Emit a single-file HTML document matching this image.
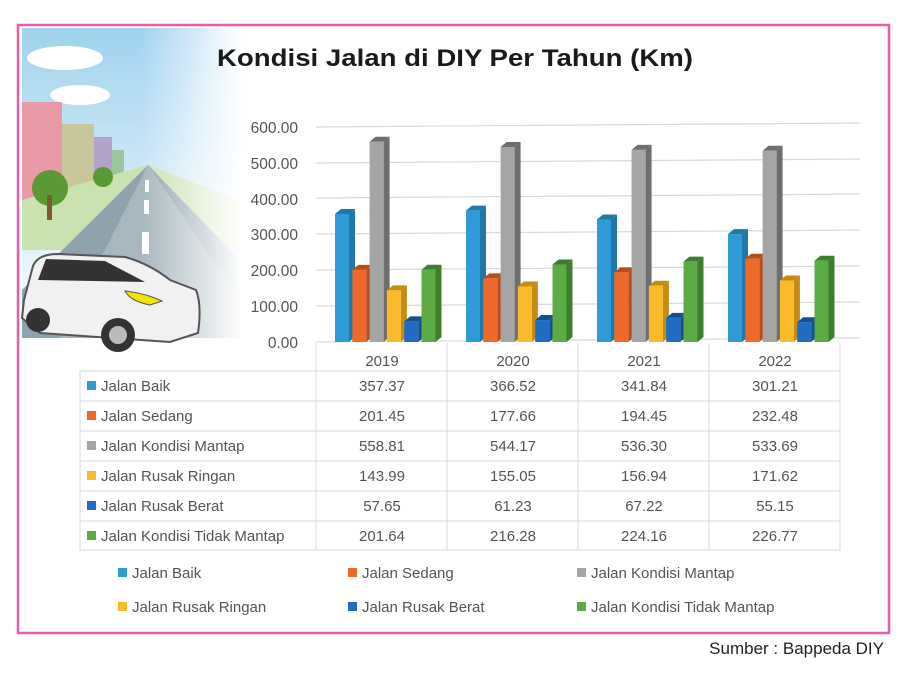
<!DOCTYPE html>
<html><head><meta charset="utf-8"><style>
body{margin:0;background:#fff;}
svg text{font-family:"Liberation Sans",sans-serif;}
</style></head><body>
<svg width="916" height="672" viewBox="0 0 916 672" xmlns="http://www.w3.org/2000/svg">
<defs>
<linearGradient id="sky" x1="0" y1="0" x2="0" y2="1"><stop offset="0" stop-color="#9fd3ee"/><stop offset="1" stop-color="#ffffff"/></linearGradient>
<linearGradient id="fadeR" x1="0" y1="0" x2="1" y2="0"><stop offset="0" stop-color="#fff" stop-opacity="0"/><stop offset="1" stop-color="#fff" stop-opacity="1"/></linearGradient>
</defs>
<rect x="0" y="0" width="916" height="672" fill="#fff"/>
<rect x="22" y="28" width="220" height="310" fill="url(#sky)"/>
<ellipse cx="65" cy="58" rx="38" ry="12" fill="#fff"/>
<ellipse cx="80" cy="95" rx="30" ry="10" fill="#fff"/>
<rect x="22" y="102" width="40" height="110" fill="#e79aa5"/>
<rect x="62" y="124" width="32" height="80" fill="#c9c69c"/>
<rect x="94" y="137" width="18" height="60" fill="#b3a2cc"/>
<rect x="112" y="150" width="12" height="40" fill="#9bc59c"/>
<path d="M22 200 L148 165 L240 200 L240 250 L22 250Z" fill="#c9e2b0"/>
<path d="M148 165 L22 290 L22 338 L240 338 L240 260 Z" fill="#8fa3ae"/>
<path d="M148 165 L60 338 L240 338 L240 300 Z" fill="#a8b6bd"/>
<rect x="145" y="180" width="4" height="12" fill="#fff"/><rect x="144" y="200" width="5" height="14" fill="#fff"/><rect x="142" y="232" width="7" height="22" fill="#fff"/>
<rect x="140" y="28" width="102" height="310" fill="url(#fadeR)"/>
<circle cx="50" cy="188" r="18" fill="#5a9a35"/><rect x="47" y="195" width="5" height="25" fill="#7a5a30"/>
<circle cx="103" cy="177" r="10" fill="#5a9a35"/>
<path d="M24 300 L33 266 Q38 254 58 254 L125 257 Q150 264 170 280 L196 290 Q202 305 198 333 L170 342 L40 333 L22 318Z" fill="#f1f1f1" stroke="#555" stroke-width="2"/>
<path d="M38 280 L46 259 L105 261 L145 282 Z" fill="#333"/>
<path d="M125 291 Q145 293 162 301 L150 305 Q130 301 125 291Z" fill="#f2e600" stroke="#555"/>
<circle cx="38" cy="320" r="12" fill="#333"/><circle cx="118" cy="335" r="17" fill="#333"/><circle cx="118" cy="335" r="9" fill="#bbb"/>
<rect x="18" y="25" width="871" height="608" fill="none" stroke="#e85da9" stroke-width="2.5"/>
<text x="455" y="66" font-size="24" font-weight="bold" text-anchor="middle" fill="#1a1a1a" textLength="476" lengthAdjust="spacingAndGlyphs">Kondisi Jalan di DIY Per Tahun (Km)</text>
<g stroke="#d9d9d9" stroke-width="1.2">
<line x1="316" y1="342" x2="860" y2="338"/>
<line x1="316" y1="306" x2="860" y2="302"/>
<line x1="316" y1="270" x2="860" y2="266"/>
<line x1="316" y1="234" x2="860" y2="230"/>
<line x1="316" y1="198" x2="860" y2="194"/>
<line x1="316" y1="163" x2="860" y2="159"/>
<line x1="316" y1="127" x2="860" y2="123"/>
</g>
<g font-size="15.5" fill="#555" text-anchor="end">
<text x="298" y="348">0.00</text><text x="298" y="312">100.00</text><text x="298" y="276">200.00</text><text x="298" y="240">300.00</text><text x="298" y="205">400.00</text><text x="298" y="169">500.00</text><text x="298" y="133">600.00</text>
</g>
<g id="bars"></g>
<g stroke="#d9d9d9" stroke-width="1" fill="none">
<rect x="80" y="371" width="760" height="179"/>
<line x1="80" y1="401" x2="840" y2="401"/><line x1="80" y1="431" x2="840" y2="431"/><line x1="80" y1="461" x2="840" y2="461"/><line x1="80" y1="491" x2="840" y2="491"/><line x1="80" y1="521" x2="840" y2="521"/>
<line x1="316" y1="343" x2="316" y2="550"/><line x1="447" y1="343" x2="447" y2="550"/><line x1="578" y1="343" x2="578" y2="550"/><line x1="709" y1="343" x2="709" y2="550"/><line x1="840" y1="343" x2="840" y2="550"/>
</g>
<g font-size="15" fill="#555" text-anchor="middle">
<text x="382" y="366">2019</text><text x="513" y="366">2020</text><text x="644" y="366">2021</text><text x="775" y="366">2022</text>
</g>
<g id="tbl" font-size="15" fill="#555"></g>
<g id="leg" font-size="15" fill="#555"></g>
<text x="884" y="654" font-size="17" fill="#222" text-anchor="end">Sumber : Bappeda DIY</text>
</svg>
<script>
var cols=[["#2e9bd6","#1f78a8"],["#ef6a2a","#b84d18"],["#a5a5a5","#6e6e6e"],["#fbba2c","#c48c12"],["#1f6cc2","#154f90"],["#5cab45","#3d7d2d"]];
var names=["Jalan Baik","Jalan Sedang","Jalan Kondisi Mantap","Jalan Rusak Ringan","Jalan Rusak Berat","Jalan Kondisi Tidak Mantap"];
var d=[[357.37,366.52,341.84,301.21],[201.45,177.66,194.45,232.48],[558.81,544.17,536.30,533.69],[143.99,155.05,156.94,171.62],[57.65,61.23,67.22,55.15],[201.64,216.28,224.16,226.77]];
var b=document.getElementById("bars"),s="";
for(var g=0;g<4;g++)for(var i=0;i<6;i++){var x=335+131*g+17.3*i,h=d[i][g]*0.3583,y=342-h,w=14,dx=6,dy=5;
s+='<path d="M'+(x+w)+' '+y+' l'+dx+' '+(-dy)+' v'+h+' l'+(-dx)+' '+dy+'z" fill="'+cols[i][1]+'"/>';
s+='<path d="M'+x+' '+y+' l'+dx+' '+(-dy)+' h'+w+' l'+(-dx)+' '+dy+'z" fill="'+cols[i][1]+'"/>';
s+='<rect x="'+x+'" y="'+y+'" width="'+w+'" height="'+h+'" fill="'+cols[i][0]+'"/>';}
b.innerHTML=s;
var t="";for(var i=0;i<6;i++){var y=391+30*i;t+='<rect x="87" y="'+(y-10)+'" width="9" height="9" fill="'+cols[i][0]+'"/><text x="101" y="'+y+'">'+names[i]+'</text>';
for(var g=0;g<4;g++)t+='<text x="'+(382+131*g)+'" y="'+y+'" text-anchor="middle">'+d[i][g].toFixed(2)+'</text>';}
document.getElementById("tbl").innerHTML=t;
var lx=[118,348,577],l="";for(var i=0;i<6;i++){var x=lx[i%3],y=i<3?578:612;l+='<rect x="'+x+'" y="'+(y-10)+'" width="9" height="9" fill="'+cols[i][0]+'"/><text x="'+(x+14)+'" y="'+y+'">'+names[i]+'</text>';}
document.getElementById("leg").innerHTML=l;
</script>
</body></html>
